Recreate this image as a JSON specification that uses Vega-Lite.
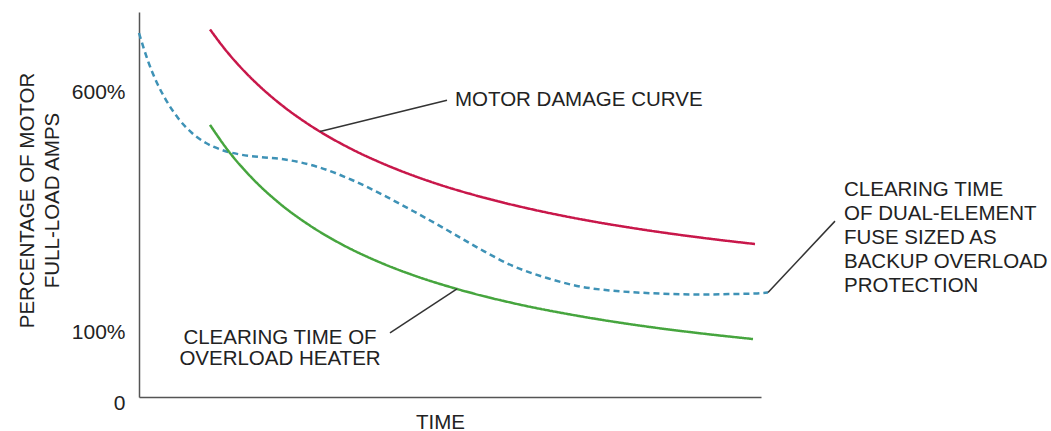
{
  "$schema": "https://vega.github.io/schema/vega-lite/v6.json",
  "width": 622,
  "height": 385,
  "autosize": {"type": "none"},
  "padding": {"left": 139, "top": 12, "right": 290, "bottom": 34},
  "background": "white",
  "config": {
    "view": {"stroke": null},
    "font": "Liberation Sans",
    "text": {"font": "Liberation Sans", "fontSize": 20.5, "color": "#222"}
  },
  "datasets": {
    "curves": [
      {"curve": "Motor damage curve", "t": 71, "pct": 730.4},
      {"curve": "Motor damage curve", "t": 86, "pct": 689},
      {"curve": "Motor damage curve", "t": 101, "pct": 652.9},
      {"curve": "Motor damage curve", "t": 116, "pct": 621},
      {"curve": "Motor damage curve", "t": 131, "pct": 592.7},
      {"curve": "Motor damage curve", "t": 146, "pct": 567.3},
      {"curve": "Motor damage curve", "t": 161, "pct": 544.6},
      {"curve": "Motor damage curve", "t": 181, "pct": 517.5},
      {"curve": "Motor damage curve", "t": 211, "pct": 482.7},
      {"curve": "Motor damage curve", "t": 246, "pct": 449},
      {"curve": "Motor damage curve", "t": 291, "pct": 413.5},
      {"curve": "Motor damage curve", "t": 341, "pct": 382.1},
      {"curve": "Motor damage curve", "t": 391, "pct": 356.5},
      {"curve": "Motor damage curve", "t": 441, "pct": 335.2},
      {"curve": "Motor damage curve", "t": 498, "pct": 315.2},
      {"curve": "Motor damage curve", "t": 564, "pct": 296},
      {"curve": "Motor damage curve", "t": 616, "pct": 283.3},
      {"curve": "Dual-element fuse", "t": 0, "pct": 722.9},
      {"curve": "Dual-element fuse", "t": 9, "pct": 664.6},
      {"curve": "Dual-element fuse", "t": 18, "pct": 618.75},
      {"curve": "Dual-element fuse", "t": 27, "pct": 583.3},
      {"curve": "Dual-element fuse", "t": 39, "pct": 545.8},
      {"curve": "Dual-element fuse", "t": 53, "pct": 514.6},
      {"curve": "Dual-element fuse", "t": 67, "pct": 493.75},
      {"curve": "Dual-element fuse", "t": 83, "pct": 479.2},
      {"curve": "Dual-element fuse", "t": 101, "pct": 469.8},
      {"curve": "Dual-element fuse", "t": 121, "pct": 464.6},
      {"curve": "Dual-element fuse", "t": 146, "pct": 459.4},
      {"curve": "Dual-element fuse", "t": 179, "pct": 443.75},
      {"curve": "Dual-element fuse", "t": 213, "pct": 416.7},
      {"curve": "Dual-element fuse", "t": 244, "pct": 385.4},
      {"curve": "Dual-element fuse", "t": 274, "pct": 352.1},
      {"curve": "Dual-element fuse", "t": 308, "pct": 312.5},
      {"curve": "Dual-element fuse", "t": 341, "pct": 272.9},
      {"curve": "Dual-element fuse", "t": 374, "pct": 237.5},
      {"curve": "Dual-element fuse", "t": 408, "pct": 212.5},
      {"curve": "Dual-element fuse", "t": 441, "pct": 194.8},
      {"curve": "Dual-element fuse", "t": 471, "pct": 186.5},
      {"curve": "Dual-element fuse", "t": 498, "pct": 182.3},
      {"curve": "Dual-element fuse", "t": 531, "pct": 179.2},
      {"curve": "Dual-element fuse", "t": 564, "pct": 178.1},
      {"curve": "Dual-element fuse", "t": 596, "pct": 179.2},
      {"curve": "Dual-element fuse", "t": 616, "pct": 180.2},
      {"curve": "Dual-element fuse", "t": 629, "pct": 182.3},
      {"curve": "Overload heater", "t": 71, "pct": 531.5},
      {"curve": "Overload heater", "t": 89, "pct": 478.3},
      {"curve": "Overload heater", "t": 113, "pct": 420.8},
      {"curve": "Overload heater", "t": 139, "pct": 370.6},
      {"curve": "Overload heater", "t": 169, "pct": 324.4},
      {"curve": "Overload heater", "t": 201, "pct": 284.6},
      {"curve": "Overload heater", "t": 241, "pct": 245},
      {"curve": "Overload heater", "t": 274, "pct": 218.5},
      {"curve": "Overload heater", "t": 318, "pct": 189.6},
      {"curve": "Overload heater", "t": 374, "pct": 160.2},
      {"curve": "Overload heater", "t": 441, "pct": 132.9},
      {"curve": "Overload heater", "t": 498, "pct": 114.2},
      {"curve": "Overload heater", "t": 564, "pct": 97.5},
      {"curve": "Overload heater", "t": 614, "pct": 89.2}
    ],
    "leaders": [
      {"leader": "motor", "t": 181, "pct": 517.5},
      {"leader": "motor", "t": 308, "pct": 583},
      {"leader": "heater", "t": 318, "pct": 189.6},
      {"leader": "heater", "t": 251, "pct": 98.5},
      {"leader": "fuse", "t": 629, "pct": 182.3},
      {"leader": "fuse", "t": 696, "pct": 331}
    ],
    "labels": [
      {"text": "MOTOR DAMAGE CURVE", "t": 316, "pct": 583, "side": "left"},
      {"text": "CLEARING TIME OF", "t": 141, "pct": 90.8, "side": "center"},
      {"text": "OVERLOAD HEATER", "t": 141, "pct": 58.5, "side": "center"},
      {"text": "CLEARING TIME", "t": 705, "pct": 394.8, "side": "left"},
      {"text": "OF DUAL-ELEMENT", "t": 705, "pct": 344.8, "side": "left"},
      {"text": "FUSE SIZED AS", "t": 705, "pct": 294.8, "side": "left"},
      {"text": "BACKUP OVERLOAD", "t": 705, "pct": 244.8, "side": "left"},
      {"text": "PROTECTION", "t": 705, "pct": 194.8, "side": "left"}
    ]
  },
  "encoding": {
    "x": {
      "field": "t",
      "type": "quantitative",
      "scale": {"domain": [0, 622], "nice": false, "zero": false},
      "axis": {
        "title": "TIME",
        "labels": false,
        "ticks": false,
        "grid": false,
        "domainColor": "#555",
        "domainWidth": 1.5,
        "titleFont": "Liberation Sans",
        "titleFontSize": 20.5,
        "titleFontWeight": "normal",
        "titleColor": "#222",
        "titleX": 301,
        "titleY": 25,
        "titleAlign": "center",
        "titleBaseline": "middle"
      }
    },
    "y": {
      "field": "pct",
      "type": "quantitative",
      "scale": {"domain": [0, 100, 600, 766.67], "range": [385, 320, 80, 0], "nice": false, "zero": false},
      "axis": {
        "title": ["PERCENTAGE OF MOTOR", "FULL-LOAD AMPS"],
        "values": [0, 100, 600],
        "labelExpr": "datum.value == 0 ? '0' : datum.value + '%'",
        "ticks": false,
        "grid": false,
        "domainColor": "#555",
        "domainWidth": 1.5,
        "labelFont": "Liberation Sans",
        "labelFontSize": 21,
        "labelColor": "#222",
        "labelPadding": 14,
        "labelOffset": {"condition": {"test": "datum.value == 0", "value": 6}, "value": 0},
        "titleFont": "Liberation Sans",
        "titleFontSize": 20.5,
        "titleFontWeight": "normal",
        "titleColor": "#222",
        "titleLineHeight": 25,
        "titleAngle": 270,
        "titleX": -111.5,
        "titleY": 188,
        "titleAlign": "center",
        "titleBaseline": "middle"
      }
    }
  },
  "layer": [
    {
      "data": {"name": "curves"},
      "mark": {"type": "line", "interpolate": "monotone", "strokeWidth": 2.5},
      "encoding": {
        "color": {
          "field": "curve",
          "type": "nominal",
          "scale": {"domain": ["Motor damage curve", "Dual-element fuse", "Overload heater"], "range": ["#c8174a", "#3e92b6", "#46a53e"]},
          "legend": null
        },
        "strokeDash": {
          "field": "curve",
          "type": "nominal",
          "scale": {"domain": ["Motor damage curve", "Dual-element fuse", "Overload heater"], "range": [[1, 0], [6, 4], [1, 0]]},
          "legend": null
        }
      }
    },
    {
      "data": {"name": "leaders"},
      "mark": {"type": "line", "color": "#333", "strokeWidth": 1.5},
      "encoding": {"detail": {"field": "leader", "type": "nominal"}}
    },
    {
      "data": {"name": "labels"},
      "transform": [{"filter": "datum.side == 'left'"}],
      "mark": {"type": "text", "align": "left", "baseline": "middle"},
      "encoding": {"text": {"field": "text", "type": "nominal"}}
    },
    {
      "data": {"name": "labels"},
      "transform": [{"filter": "datum.side == 'center'"}],
      "mark": {"type": "text", "align": "center", "baseline": "middle"},
      "encoding": {"text": {"field": "text", "type": "nominal"}}
    }
  ]
}
